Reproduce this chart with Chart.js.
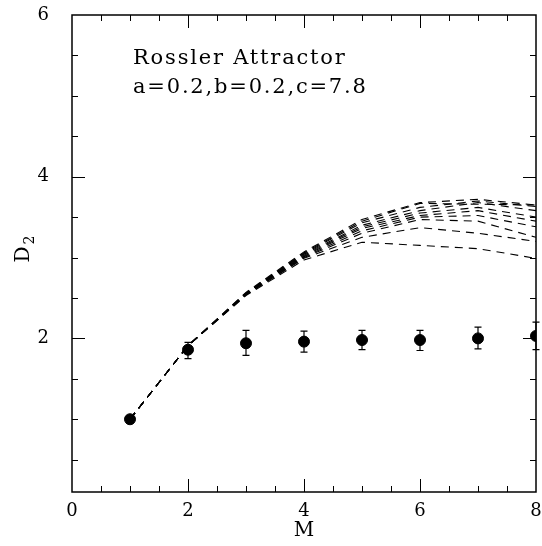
<!DOCTYPE html>
<html>
<head>
<meta charset="utf-8">
<script src="https://cdn.jsdelivr.net/npm/chart.js@4.4.1/dist/chart.umd.min.js"></script>
<style>
  body { margin: 0; background: #fff; }
  canvas { display: block; }
</style>
</head>
<body>
<canvas id="myChart" width="542" height="546"></canvas>
<script>
// embedding dimension
const dims = [1, 2, 3, 4, 5, 6, 7, 8];

// D2 estimates from the individual dashed runs
const curve1 = [1.0, 1.91, 2.53, 2.97, 3.19, 3.15, 3.11, 2.99];
const curve2 = [1.0, 1.91, 2.54, 2.99, 3.25, 3.37, 3.30, 3.20];
const curve3 = [1.0, 1.91, 2.54, 3.00, 3.30, 3.47, 3.45, 3.25];
const curve4 = [1.0, 1.91, 2.55, 3.01, 3.33, 3.50, 3.52, 3.38];
const curve5 = [1.0, 1.91, 2.55, 3.02, 3.36, 3.52, 3.58, 3.45];
const curve6 = [1.0, 1.91, 2.55, 3.03, 3.38, 3.55, 3.62, 3.50];
const curve7 = [1.0, 1.91, 2.56, 3.04, 3.40, 3.58, 3.68, 3.58];
const curve8 = [1.0, 1.91, 2.56, 3.05, 3.43, 3.62, 3.70, 3.63];
const curve9 = [1.0, 1.91, 2.56, 3.06, 3.45, 3.67, 3.66, 3.65];
const curve10 = [1.0, 1.91, 2.57, 3.07, 3.47, 3.68, 3.72, 3.65];
const curves = [curve1, curve2, curve3, curve4, curve5, curve6, curve7, curve8, curve9, curve10];

// points with error bars
const pointD2 = [1.0, 1.86, 1.94, 1.96, 1.98, 1.98, 2.0, 2.03];
const errUp = [0, 0.09, 0.16, 0.13, 0.12, 0.12, 0.14, 0.17];
const errDown = [0, 0.11, 0.15, 0.13, 0.12, 0.13, 0.13, 0.17];

// ticks
const xTicks = [0, 0.5, 1, 1.5, 2, 2.5, 3, 3.5, 4, 4.5, 5, 5.5, 6, 6.5, 7, 7.5, 8];
const yTicks = [0.5, 1, 1.5, 2, 2.5, 3, 3.5, 4, 4.5, 5, 5.5, 6];
const xLabels = [0, 2, 4, 6, 8];
const yLabels = [2, 4, 6];

const annotationLines = ['Rossler Attractor', 'a=0.2,b=0.2,c=7.8'];

const serif = '"DejaVu Serif", "Liberation Serif", serif';

const datasets = curves.map(c => ({
  type: 'line',
  data: dims.map((m, i) => ({ x: m, y: c[i] })),
  borderColor: '#000',
  borderWidth: 1.1,
  borderDash: [8, 6],
  pointRadius: 0,
  fill: false,
  tension: 0,
  order: 2
}));

datasets.push({
  type: 'scatter',
  data: dims.map((m, i) => ({ x: m, y: pointD2[i] })),
  backgroundColor: '#000',
  borderColor: '#000',
  pointRadius: 5.5,
  order: 0
});

const framePlugin = {
  id: 'frame',
  afterDatasetsDraw(chart) {
    const ctx = chart.ctx;
    const { left, right, top, bottom } = chart.chartArea;
    const xs = chart.scales.x;
    const ys = chart.scales.y;
    ctx.save();

    // error bars
    ctx.strokeStyle = '#000';
    ctx.lineWidth = 1.2;
    dims.forEach((m, i) => {
      if (!errUp[i] && !errDown[i]) return;
      const px = xs.getPixelForValue(m);
      const hi = ys.getPixelForValue(pointD2[i] + errUp[i]);
      const lo = ys.getPixelForValue(pointD2[i] - errDown[i]);
      ctx.beginPath();
      ctx.moveTo(px, hi); ctx.lineTo(px, lo);
      ctx.moveTo(px - 3.5, hi); ctx.lineTo(px + 3.5, hi);
      ctx.moveTo(px - 3.5, lo); ctx.lineTo(px + 3.5, lo);
      ctx.stroke();
    });

    // frame
    ctx.lineWidth = 1.5;
    ctx.strokeRect(left, top, right - left, bottom - top);

    // inward ticks on all four sides
    ctx.lineWidth = 1;
    ctx.beginPath();
    xTicks.forEach(v => {
      if (v === 0 || v === 8) return;
      const px = Math.round(xs.getPixelForValue(v)) + 0.5;
      const len = xLabels.includes(v) ? 13 : 6;
      ctx.moveTo(px, bottom); ctx.lineTo(px, bottom - len);
      ctx.moveTo(px, top); ctx.lineTo(px, top + len);
    });
    yTicks.forEach(v => {
      if (v === 6) return;
      const py = Math.round(ys.getPixelForValue(v)) + 0.5;
      const len = yLabels.includes(v) ? 13 : 6;
      ctx.moveTo(left, py); ctx.lineTo(left + len, py);
      ctx.moveTo(right, py); ctx.lineTo(right - len, py);
    });
    ctx.stroke();

    // y axis title: D with subscript 2
    ctx.fillStyle = '#000';
    ctx.save();
    ctx.translate(29, (top + bottom) / 2 - 4);
    ctx.rotate(-Math.PI / 2);
    ctx.textBaseline = 'alphabetic';
    ctx.textAlign = 'left';
    ctx.font = '20px ' + serif;
    const dw = ctx.measureText('D').width;
    ctx.fillText('D', -dw / 2 - 5, 0);
    ctx.font = '14px ' + serif;
    ctx.fillText('2', dw / 2 - 3, 5);
    ctx.restore();

    // annotation text
    ctx.font = '21px ' + serif;
    ctx.letterSpacing = '1.8px';
    ctx.textBaseline = 'alphabetic';
    ctx.textAlign = 'left';
    ctx.fillText(annotationLines[0], left + 61, top + 49);
    ctx.fillText(annotationLines[1], left + 61, top + 78);
    ctx.restore();
  }
};

new Chart(document.getElementById('myChart').getContext('2d'), {
  data: { datasets },
  options: {
    responsive: false,
    animation: false,
    devicePixelRatio: 1,
    layout: { autoPadding: false, padding: { left: 0, top: 15, right: 6, bottom: 0 } },
    plugins: { legend: { display: false }, tooltip: { enabled: false } },
    scales: {
      x: {
        type: 'linear',
        min: 0,
        max: 8,
        afterBuildTicks: s => { s.ticks = xTicks.map(v => ({ value: v })); },
        afterFit: s => { s.height = 54; s.paddingLeft = 0; s.paddingRight = 0; },
        grid: { display: false },
        border: { display: false },
        ticks: {
          autoSkip: false,
          maxRotation: 0,
          padding: 1,
          color: '#000',
          font: { family: serif, size: 18 },
          callback: v => (xLabels.includes(v) ? String(v) : '')
        },
        title: {
          display: true,
          text: 'M',
          color: '#000',
          font: { family: serif, size: 20 },
          padding: { top: 0, bottom: 3 }
        }
      },
      y: {
        type: 'linear',
        min: 0.1,
        max: 6,
        afterBuildTicks: s => { s.ticks = yTicks.map(v => ({ value: v })); },
        afterFit: s => { s.width = 72; s.paddingTop = 0; s.paddingBottom = 0; },
        grid: { display: false },
        border: { display: false },
        ticks: {
          autoSkip: false,
          padding: 15,
          color: '#000',
          font: { family: serif, size: 18 },
          callback: v => (yLabels.includes(v) ? String(v) : '')
        },
        title: { display: false }
      }
    }
  },
  plugins: [framePlugin]
});
</script>
</body>
</html>
